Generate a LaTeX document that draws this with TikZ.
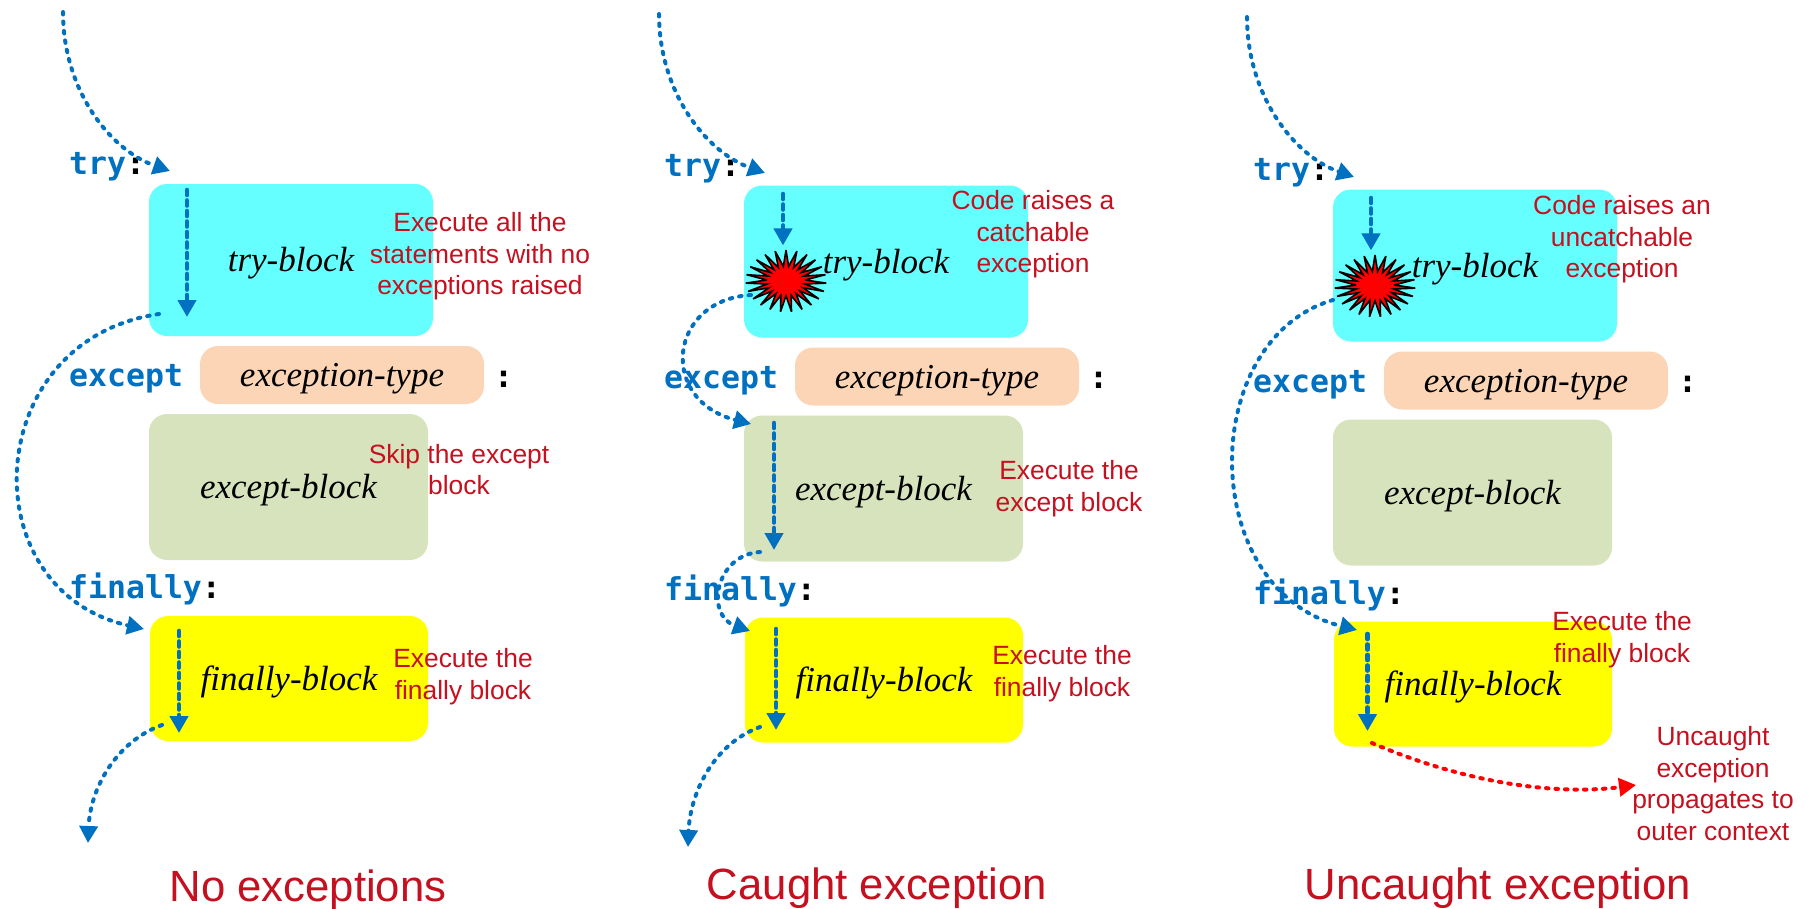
\documentclass[tikz,border=0pt]{standalone}
\usepackage{fontspec}
\usepackage{xcolor}
\usetikzlibrary{arrows.meta,shapes.geometric}
\setmainfont{Liberation Sans}
\newfontfamily\blockfont{Liberation Serif}
\newfontfamily\codefont{DejaVu Sans Mono}
\definecolor{flowblue}{HTML}{0070C0}
\definecolor{notered}{HTML}{C4101F}
\definecolor{trycyan}{HTML}{66FFFF}
\definecolor{typepeach}{HTML}{FBD5B5}
\definecolor{exceptgreen}{HTML}{D7E3BC}
\definecolor{finallyyellow}{HTML}{FFFF00}
\definecolor{burstred}{HTML}{FF0000}
\tikzset{
  block/.style={rounded corners=18,inner sep=0,text height=26,text depth=3,font=\fontsize{35}{40}\selectfont\blockfont\itshape},
  tryblock/.style={block,fill=trycyan,minimum width=284,minimum height=152},
  typeblock/.style={block,fill=typepeach,minimum width=284,minimum height=58},
  exceptblock/.style={block,fill=exceptgreen,minimum width=279,minimum height=146},
  finallyblock/.style={block,fill=finallyyellow,minimum width=278,minimum height=125},
  keyword/.style={anchor=west,inner sep=0,yshift=-3,font=\fontsize{31.5}{36}\selectfont\codefont\bfseries,text=flowblue},
  note/.style={align=center,inner sep=0,yshift=-2.5,text=notered,font=\fontsize{26.4}{31.6}\selectfont},
  title/.style={inner sep=0,yshift=-2.5,text=notered,font=\fontsize{43.7}{50}\selectfont},
  burst/.style={star,star points=23,star point ratio=2.1,fill=burstred,draw=black,line width=1.6,miter limit=5,inner sep=0,minimum size=62,xscale=1.3,transform shape},
  flow/.style={draw=flowblue,line width=4,line cap=round,dash pattern=on 2.5 off 7,-{Triangle[length=17,width=18]}},
  drop/.style={flow,dash pattern=on 5 off 5.5,line width=4.6},
  escape/.style={flow,draw=burstred}
}
\begin{document}
\begin{tikzpicture}[x=1pt,y=-1pt]
\useasboundingbox (0,0) rectangle (1810,908);

\node (tryA) [tryblock] at (291,260) {try-block};
\node (typeA) [typeblock] at (342,375) {exception-type};
\node (exceptA) [exceptblock] at (288.5,487) {except-block};
\node (finallyA) [finallyblock] at (289,678.5) {finally-block};
\node (trykeyA) [keyword] at (69,164) {try\textcolor{black}{:}};
\node (exceptkeyA) [keyword] at (69,376) {except};
\node (colonA) [keyword,text=black] at (494,376) {:};
\node (finallykeyA) [keyword] at (69,586) {finally\textcolor{black}{:}};
\node (noteA1) [note] at (480,254) {Execute all the\\statements with no\\exceptions raised};
\node (noteA2) [note] at (459,467) {Skip the except\\block};
\node (noteA3) [note] at (463,674) {Execute the\\finally block};
\node (titleA) [title] at (308,888) {No exceptions};

\node (tryB) [tryblock] at (886,261.5) {try-block};
\node (typeB) [typeblock] at (937,376.5) {exception-type};
\node (exceptB) [exceptblock] at (883.5,488.5) {except-block};
\node (finallyB) [finallyblock] at (884,680) {finally-block};
\node (trykeyB) [keyword] at (664,165.5) {try\textcolor{black}{:}};
\node (exceptkeyB) [keyword] at (664,377.5) {except};
\node (colonB) [keyword,text=black] at (1089,377.5) {:};
\node (finallykeyB) [keyword] at (664,587.5) {finally\textcolor{black}{:}};
\node (noteB1) [note] at (1033,232) {Code raises a\\catchable\\exception};
\node (noteB2) [note] at (1069,486) {Execute the\\except block};
\node (noteB3) [note] at (1062,671) {Execute the\\finally block};
\node (titleB) [title] at (877,886) {Caught exception};
\node (burstB) [burst] at (786,281) {};

\node (tryC) [tryblock] at (1475,265.5) {try-block};
\node (typeC) [typeblock] at (1526,380.5) {exception-type};
\node (exceptC) [exceptblock] at (1472.5,492.5) {except-block};
\node (finallyC) [finallyblock] at (1473,684) {finally-block};
\node (trykeyC) [keyword] at (1253,170) {try\textcolor{black}{:}};
\node (exceptkeyC) [keyword] at (1253,381.5) {except};
\node (colonC) [keyword,text=black] at (1678,381.5) {:};
\node (finallykeyC) [keyword] at (1253,592) {finally\textcolor{black}{:}};
\node (noteC1) [note] at (1622,237) {Code raises an\\uncatchable\\exception};
\node (noteC3) [note] at (1622,637) {Execute the\\finally block};
\node (noteC4) [note] at (1713,781) {Uncaught\\exception\\propagates to\\outer context};
\node (titleC) [title] at (1498,886) {Uncaught exception};
\node (burstC) [burst] at (1375,286) {};

\coordinate (enterA) at (63,12);
\coordinate (intoA) at (170,171);
\coordinate (droptopA) at (187,190);
\coordinate (dropendA) at (187,317);
\coordinate (leaveA) at (159,314);
\coordinate (landA) at (144,629);
\coordinate (finaltopA) at (179,631);
\coordinate (finalendA) at (179,733);
\coordinate (exitA) at (162,725);
\coordinate (outA) at (88,843);
\draw[flow] (enterA) .. controls (63,90) and (110,150) .. (intoA);
\draw[drop] (droptopA) -- (dropendA);
\draw[flow] (leaveA) .. controls (-20,340) and (-30,590) .. (landA);
\draw[drop] (finaltopA) -- (finalendA);
\draw[flow] (exitA) .. controls (115,742) and (90,790) .. (outA);

\coordinate (enterB) at (659,14);
\coordinate (intoB) at (765,173);
\coordinate (droptopB) at (783,194);
\coordinate (leaveB) at (751,295);
\coordinate (landB) at (751,424);
\coordinate (exdroptopB) at (774,423);
\coordinate (exdropendB) at (774,550);
\coordinate (hookB) at (760,552);
\coordinate (hookendB) at (750,631);
\coordinate (finaltopB) at (776,629);
\coordinate (finalendB) at (776,730);
\coordinate (exitB) at (760,727);
\coordinate (outB) at (688,847);
\draw[flow] (enterB) .. controls (659,92) and (706,152) .. (intoB);
\draw[drop,shorten >=-2] (droptopB) -- (droptopB |- burstB.north);
\draw[flow] (leaveB) .. controls (668,300) and (658,400) .. (landB);
\draw[drop] (exdroptopB) -- (exdropendB);
\draw[flow] (hookB) .. controls (715,555) and (705,615) .. (hookendB);
\draw[drop] (finaltopB) -- (finalendB);
\draw[flow] (exitB) .. controls (713,744) and (690,794) .. (outB);

\coordinate (enterC) at (1247,17);
\coordinate (intoC) at (1354,177);
\coordinate (droptopC) at (1371,198);
\coordinate (leaveC) at (1333,300);
\coordinate (landC) at (1357,630);
\coordinate (finaltopC) at (1367.5,634);
\coordinate (finalendC) at (1367.5,731);
\coordinate (exitC) at (1372,743);
\coordinate (awayC) at (1636,785);
\draw[flow] (enterC) .. controls (1247,95) and (1294,156) .. (intoC);
\draw[drop,shorten >=-2] (droptopC) -- (droptopC |- burstC.north);
\draw[flow] (leaveC) .. controls (1197,340) and (1197,590) .. (landC);
\draw[drop] (finaltopC) -- (finalendC);
\draw[escape] (exitC) .. controls (1470,785) and (1560,795) .. (awayC);
\end{tikzpicture}
\end{document}
